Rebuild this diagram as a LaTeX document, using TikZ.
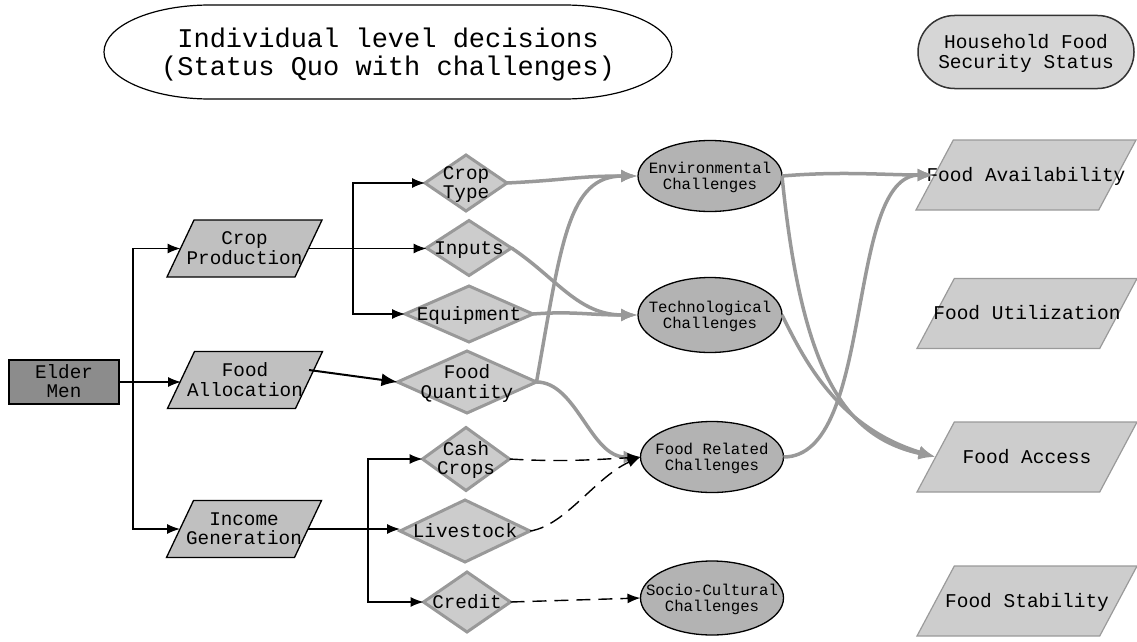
\documentclass[tikz,border=0pt]{standalone}
\usepackage{fontspec}
\setmainfont{Liberation Mono}
\usetikzlibrary{shapes.geometric,shapes.misc,arrows.meta}
\newcommand{\nlab}[1]{\makebox[1pt]{\smash{\raisebox{-0.38em}{\begin{tabular}{@{}c@{}}#1\end{tabular}}}}\rule[-0.5pt]{0pt}{1pt}}
\definecolor{elderfill}{HTML}{8C8C8C}
\definecolor{pfill}{HTML}{C0C0C0}
\definecolor{dfill}{HTML}{CCCCCC}
\definecolor{dgray}{HTML}{999999}
\definecolor{efill}{HTML}{B3B3B3}
\definecolor{ofill}{HTML}{CDCDCD}
\definecolor{ogray}{HTML}{9A9A9A}
\definecolor{hhfill}{HTML}{D6D6D6}
\definecolor{gline}{HTML}{999999}
\begin{document}
\begin{tikzpicture}[x=1pt,y=-1pt,
  every node/.style={inner sep=0pt, outer sep=0pt},
  fnorm/.style={font=\fontsize{19.3}{19.5}\selectfont},
  fsmall/.style={font=\fontsize{15.7}{16}\selectfont},
  fbig/.style={font=\fontsize{27}{27}\selectfont},
  fright/.style={font=\fontsize{19.5}{20}\selectfont},
  actor/.style={rectangle, draw=black, line width=1.3pt, fill=elderfill, minimum width=110, minimum height=44, fnorm},
  decision/.style={trapezium, trapezium left angle=75, trapezium right angle=105, trapezium stretches=true, draw=black, line width=1.3pt, fill=pfill, minimum width=155, minimum height=57, fnorm},
  choice/.style={diamond, draw=dgray, line width=3pt, fill=dfill, fnorm},
  challenge/.style={ellipse, draw=black, line width=1.3pt, fill=efill, fsmall},
  outcome/.style={trapezium, trapezium left angle=75.6, trapezium right angle=104.4, trapezium stretches=true, draw=ogray, line width=1.2pt, fill=ofill, minimum width=220, minimum height=70, fright},
  blk/.style={draw=black, line width=1.3pt, -{Latex[length=13pt,width=10pt]}},
  blkthick/.style={draw=black, line width=2pt, -{Latex[length=16pt,width=13pt]}},
  gry/.style={draw=gline, line width=3.5pt, -{Latex[length=17pt,width=13pt]}},
  dsh/.style={draw=black, line width=1.4pt, dash pattern=on 14pt off 8pt, -{Latex[length=13pt,width=10pt]}}
]
\useasboundingbox (0,0) rectangle (1137,642);

% headers
\node[minimum width=568, minimum height=94, fbig] (title) at (388,52) {\nlab{Individual level decisions\\(Status Quo with challenges)}};
\draw[line width=1.2pt] ([xshift=106pt]title.north west) -- ([xshift=-108pt]title.north east)
  arc[start angle=90, end angle=-90, x radius=108pt, y radius=47pt]
  -- ([xshift=106pt]title.south west)
  arc[start angle=270, end angle=90, x radius=106pt, y radius=47pt] -- cycle;
\node[rounded rectangle, draw=black!80, line width=1.5pt, fill=hhfill, minimum width=216, minimum height=73, fright] (hh) at (1026,52) {\nlab{Household Food\\Security Status}};

% left
\node[actor] (elder) at (64,382) {\nlab{Elder\\Men}};
\node[decision] (crop) at (244.5,248.5) {\nlab{Crop\\Production}};
\node[decision] (alloc) at (245,380) {\nlab{Food\\Allocation}};
\node[decision] (income) at (244,529) {\nlab{Income\\Generation}};

% diamonds
\node[choice, minimum width=82, minimum height=56] (ctype) at (466,183) {\nlab{Crop\\Type}};
\node[choice, minimum width=85, minimum height=55] (inputs) at (469,248) {\nlab{Inputs}};
\node[choice, minimum width=128, minimum height=56] (equip) at (469,314) {\nlab{Equipment}};
\node[choice, minimum width=139, minimum height=62] (fquant) at (467,382) {\nlab{Food\\Quantity}};
\node[choice, minimum width=87, minimum height=63] (cash) at (466,459) {\nlab{Cash\\Crops}};
\node[choice, minimum width=130, minimum height=62] (live) at (465,531) {\nlab{Livestock}};
\node[choice, minimum width=87, minimum height=60] (credit) at (467,602) {\nlab{Credit}};

% challenges
\node[challenge, minimum width=144, minimum height=71] (env) at (710,176) {\nlab{Environmental\\Challenges}};
\node[challenge, minimum width=144, minimum height=75] (tech) at (710,315) {\nlab{Technological\\Challenges}};
\node[challenge, minimum width=143, minimum height=71] (frel) at (712,457) {\nlab{Food Related\\Challenges}};
\node[challenge, minimum width=143, minimum height=74] (socio) at (712,598) {\nlab{Socio-Cultural\\Challenges}};

% outcomes
\node[outcome] (favail) at (1026,175) {\nlab{Food Availability}};
\node[outcome] (futil) at (1027,313.5) {\nlab{Food Utilization}};
\node[outcome] (faccess) at (1027,457) {\nlab{Food Access}};
\node[outcome] (fstab) at (1027,601) {\nlab{Food Stability}};

% black connectors
\coordinate (j1) at (133,382);
\draw[blk] (elder.east) -- (alloc.west |- elder.east);
\draw[blk] (j1) |- (crop.west);
\draw[blk] (j1) |- (income.west);
\coordinate (j2) at (353,248.5);
\draw[blk] (crop.east) -- (inputs.west |- crop.east);
\draw[blk] (j2) |- (ctype.west);
\draw[blk] (j2) |- (equip.west);
\coordinate (j3) at (368,529);
\draw[blk] (income.east) -- (live.west |- income.east);
\draw[blk] (j3) |- (cash.west);
\draw[blk] (j3) |- (credit.west);
\draw[blkthick] ([yshift=10pt]alloc.east) -- (fquant.west);

% gray connectors
\draw[gry] (ctype.east) .. controls +(60,-3) and +(-60,0) .. (env.west);
\draw[gry] (inputs.east) .. controls +(45,30) and +(-60,0) .. (tech.west);
\draw[gry] (equip.east) .. controls +(40,-3) and +(-50,0) .. (tech.west);
\draw[gry] (fquant.east) .. controls +(25,-140) and +(-70,0) .. (env.west);
\draw[gry] (fquant.east) .. controls +(40,0) and +(-50,0) .. (frel.west);
\draw[gry] (env.east) .. controls +(60,-5) and +(-50,0) .. (favail.west);
\draw[gry] (env.east) .. controls +(20,200) and +(-90,-20) .. (faccess.west);
\draw[gry] (tech.east) .. controls +(20,40) and +(-100,-30) .. (faccess.west);
\draw[gry] (frel.east) .. controls +(92,0) and +(-90,0) .. (favail.west);

% dashed connectors
\draw[dsh] (cash.east) .. controls +(50,3) and +(-50,3) .. (frel.west);
\draw[dsh] (live.east) .. controls +(35,-5) and +(-45,20) .. (frel.west);
\draw[dsh] (credit.east) -- (socio.west);
\end{tikzpicture}
\end{document}
